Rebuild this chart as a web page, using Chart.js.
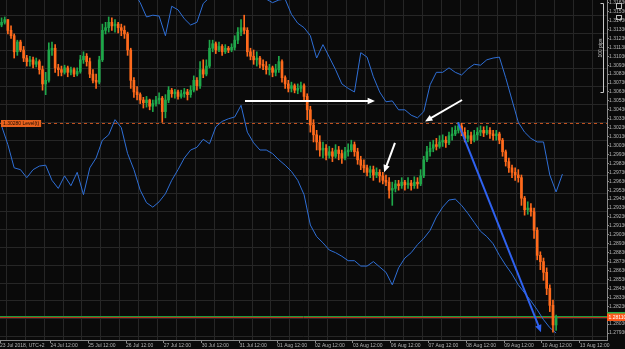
<!DOCTYPE html>
<html>
<head>
<meta charset="utf-8">
<script src="https://cdn.jsdelivr.net/npm/chart.js@4.4.1/dist/chart.umd.min.js"></script>
<style>
  html, body { margin: 0; padding: 0; background: #0a0a0a; }
  #wrap { width: 625px; height: 349px; }
</style>
</head>
<body>
<div id="wrap"><canvas id="chart" width="625" height="349"></canvas></div>
<script>
// GBPUSD, 2h candles from 23 Jul 2018 04:00
// candle i sits at hour 2*i+1, band point k at hour 4*k+1
const firstOpen = 1.3138;
const closePrices = [
  1.3141, 1.3144, 1.3132, 1.3126, 1.3108, 1.3119, 1.3110, 1.3101, 1.3097, 1.3099,
  1.3094, 1.3097, 1.3088, 1.3072, 1.3076, 1.3110, 1.3112, 1.3090, 1.3088, 1.3085,
  1.3090, 1.3085, 1.3088, 1.3083, 1.3086, 1.3099, 1.3103, 1.3097, 1.3083, 1.3076,
  1.3074, 1.3099, 1.3132, 1.3135, 1.3141, 1.3137, 1.3139, 1.3135, 1.3132, 1.3128,
  1.3110, 1.3076, 1.3063, 1.3060, 1.3054, 1.3051, 1.3054, 1.3047, 1.3050, 1.3054,
  1.3056, 1.3041, 1.3054, 1.3065, 1.3061, 1.3063, 1.3058, 1.3061, 1.3063, 1.3060,
  1.3065, 1.3076, 1.3070, 1.3088, 1.3083, 1.3092, 1.3112, 1.3117, 1.3110, 1.3114,
  1.3108, 1.3112, 1.3110, 1.3113, 1.3121, 1.3130, 1.3135, 1.3132, 1.3108, 1.3103,
  1.3099, 1.3101, 1.3094, 1.3092, 1.3088, 1.3090, 1.3085, 1.3088, 1.3097, 1.3079,
  1.3072, 1.3067, 1.3070, 1.3065, 1.3067, 1.3070, 1.3058, 1.3043, 1.3026, 1.3015,
  1.3007, 1.2998, 1.3000, 1.2992, 1.2996, 1.2991, 1.2998, 1.2994, 1.2989, 1.2996,
  1.2998, 1.3004, 1.2996, 1.2987, 1.2981, 1.2978, 1.2973, 1.2976, 1.2970, 1.2973,
  1.2969, 1.2964, 1.2962, 1.2953, 1.2955, 1.2960, 1.2958, 1.2962, 1.2959, 1.2961,
  1.2958, 1.2962, 1.2960, 1.2969, 1.2987, 1.2996, 1.3000, 1.3004, 1.3002, 1.3007,
  1.3009, 1.3006, 1.3014, 1.3016, 1.3020, 1.3025, 1.3018, 1.3011, 1.3014, 1.3009,
  1.3015, 1.3018, 1.3020, 1.3017, 1.3020, 1.3016, 1.3014, 1.3016, 1.3009, 1.2996,
  1.2985, 1.2978, 1.2973, 1.2970, 1.2967, 1.2944, 1.2931, 1.2933, 1.2929, 1.2908,
  1.2880, 1.2873, 1.2861, 1.2843, 1.2824, 1.2802, 1.2811
];
const highPrices = [
  1.3146, 1.3147, 1.3144, 1.3137, 1.3128, 1.3121, 1.3121, 1.3114, 1.3104, 1.3103,
  1.3102, 1.3101, 1.3099, 1.3092, 1.3085, 1.3118, 1.3119, 1.3116, 1.3094, 1.3092,
  1.3093, 1.3092, 1.3091, 1.3090, 1.3090, 1.3104, 1.3108, 1.3106, 1.3101, 1.3088,
  1.3083, 1.3103, 1.3139, 1.3141, 1.3147, 1.3146, 1.3144, 1.3141, 1.3139, 1.3137,
  1.3130, 1.3112, 1.3079, 1.3069, 1.3062, 1.3057, 1.3058, 1.3055, 1.3054, 1.3058,
  1.3062, 1.3058, 1.3060, 1.3069, 1.3067, 1.3066, 1.3065, 1.3065, 1.3067, 1.3066,
  1.3070, 1.3081, 1.3079, 1.3097, 1.3099, 1.3099, 1.3121, 1.3121, 1.3119, 1.3119,
  1.3116, 1.3116, 1.3114, 1.3117, 1.3126, 1.3135, 1.3144, 1.3149, 1.3135, 1.3112,
  1.3110, 1.3108, 1.3103, 1.3099, 1.3097, 1.3094, 1.3092, 1.3094, 1.3103, 1.3099,
  1.3081, 1.3076, 1.3074, 1.3072, 1.3072, 1.3074, 1.3072, 1.3061, 1.3047, 1.3032,
  1.3020, 1.3014, 1.3007, 1.3004, 1.3002, 1.3000, 1.3004, 1.3002, 1.2998, 1.3001,
  1.3005, 1.3009, 1.3007, 1.3000, 1.2991, 1.2987, 1.2981, 1.2980, 1.2980, 1.2978,
  1.2976, 1.2973, 1.2970, 1.2967, 1.2962, 1.2964, 1.2964, 1.2967, 1.2964, 1.2967,
  1.2964, 1.2968, 1.2967, 1.2976, 1.2991, 1.3002, 1.3007, 1.3009, 1.3011, 1.3014,
  1.3015, 1.3013, 1.3018, 1.3023, 1.3025, 1.3029, 1.3028, 1.3023, 1.3020, 1.3018,
  1.3020, 1.3023, 1.3025, 1.3024, 1.3025, 1.3023, 1.3020, 1.3020, 1.3018, 1.3011,
  1.2998, 1.2989, 1.2981, 1.2978, 1.2976, 1.2970, 1.2946, 1.2940, 1.2938, 1.2933,
  1.2911, 1.2884, 1.2877, 1.2866, 1.2847, 1.2830, 1.2813
];
const lowPrices = [
  1.3136, 1.3139, 1.3128, 1.3123, 1.3101, 1.3104, 1.3108, 1.3097, 1.3092, 1.3092,
  1.3090, 1.3091, 1.3083, 1.3065, 1.3060, 1.3074, 1.3104, 1.3085, 1.3081, 1.3081,
  1.3083, 1.3080, 1.3082, 1.3080, 1.3081, 1.3084, 1.3095, 1.3092, 1.3079, 1.3073,
  1.3067, 1.3072, 1.3097, 1.3128, 1.3130, 1.3132, 1.3130, 1.3129, 1.3126, 1.3123,
  1.3104, 1.3067, 1.3057, 1.3054, 1.3050, 1.3045, 1.3046, 1.3043, 1.3041, 1.3047,
  1.3050, 1.3029, 1.3034, 1.3051, 1.3057, 1.3056, 1.3055, 1.3056, 1.3057, 1.3054,
  1.3057, 1.3063, 1.3065, 1.3067, 1.3079, 1.3081, 1.3090, 1.3108, 1.3106, 1.3108,
  1.3104, 1.3106, 1.3107, 1.3108, 1.3110, 1.3117, 1.3126, 1.3128, 1.3103, 1.3099,
  1.3094, 1.3092, 1.3090, 1.3088, 1.3083, 1.3082, 1.3080, 1.3081, 1.3085, 1.3074,
  1.3067, 1.3063, 1.3063, 1.3062, 1.3061, 1.3063, 1.3054, 1.3032, 1.3018, 1.3007,
  1.2998, 1.2991, 1.2989, 1.2987, 1.2989, 1.2985, 1.2989, 1.2987, 1.2983, 1.2987,
  1.2991, 1.2996, 1.2991, 1.2982, 1.2976, 1.2973, 1.2969, 1.2967, 1.2964, 1.2967,
  1.2962, 1.2960, 1.2958, 1.2944, 1.2936, 1.2951, 1.2953, 1.2955, 1.2953, 1.2955,
  1.2953, 1.2955, 1.2955, 1.2958, 1.2967, 1.2985, 1.2991, 1.2996, 1.2998, 1.3000,
  1.3002, 1.3001, 1.3004, 1.3009, 1.3014, 1.3017, 1.3014, 1.3007, 1.3007, 1.3005,
  1.3007, 1.3009, 1.3014, 1.3013, 1.3015, 1.3011, 1.3009, 1.3009, 1.3005, 1.2991,
  1.2980, 1.2973, 1.2967, 1.2964, 1.2962, 1.2936, 1.2925, 1.2926, 1.2924, 1.2899,
  1.2875, 1.2864, 1.2852, 1.2836, 1.2817, 1.2794, 1.2796
];
const upperLine = [
  null, null, null, null, null, null, null, null, null, null,
  null, null, null, null, null, null, null, null, null, null,
  1.3188, 1.3175, 1.3163, 1.3147, 1.3149, 1.3148, 1.3126, 1.3159, 1.3155, 1.3145,
  1.3138, 1.3141, 1.3162, 1.3169, 1.3177, 1.3179, 1.3177, 1.3179, 1.3175, 1.3177,
  1.3173, 1.3169, 1.3167, 1.3163, 1.3166, 1.3167, 1.3150, 1.3140, 1.3135, 1.3126,
  1.3101, 1.3116, 1.3102, 1.3088, 1.3072, 1.3067, 1.3063, 1.3107, 1.3102, 1.3080,
  1.3063, 1.3052, 1.3053, 1.3043, 1.3043, 1.3037, 1.3034, 1.3041, 1.3071, 1.3085,
  1.3085, 1.3090, 1.3085, 1.3082, 1.3089, 1.3094, 1.3093, 1.3099, 1.3101, 1.3102,
  1.3079, 1.3054, 1.3029, 1.3018, 1.3011, 1.3007, 1.3007, 1.2970, 1.2951, 1.2971
];
const lowerLine = [
  1.3025, 1.3004, 1.2978, 1.2976, 1.2967, 1.2976, 1.2980, 1.2981, 1.2964, 1.2955,
  1.2969, 1.2958, 1.2973, 1.2948, 1.2978, 1.2989, 1.3009, 1.3015, 1.3032, 1.3023,
  1.2994, 1.2976, 1.2953, 1.2939, 1.2934, 1.2940, 1.2949, 1.2964, 1.2976, 1.2989,
  1.2998, 1.3001, 1.3010, 1.3005, 1.3024, 1.3030, 1.3033, 1.3035, 1.3048, 1.3018,
  1.3006, 1.2998, 1.2998, 1.2994, 1.2987, 1.2981, 1.2974, 1.2964, 1.2948, 1.2914,
  1.2901, 1.2894, 1.2886, 1.2883, 1.2879, 1.2874, 1.2874, 1.2868, 1.2868, 1.2873,
  1.2867, 1.2861, 1.2847, 1.2866, 1.2877, 1.2883, 1.2892, 1.2899, 1.2908, 1.2923,
  1.2934, 1.2942, 1.2943, 1.2936, 1.2927, 1.2917, 1.2907, 1.2901, 1.2893, 1.2880,
  1.2869, 1.2859, 1.2847, 1.2838, 1.2829, 1.2819, 1.2808, 1.2799, 1.2793
];

const dayLabels = ['23 Jul 2018, UTC+2', '24 Jul 12:00', '25 Jul 12:00', '26 Jul 12:00', '27 Jul 12:00',
  '30 Jul 12:00', '31 Jul 12:00', '01 Aug 12:00', '02 Aug 12:00', '03 Aug 12:00', '06 Aug 12:00',
  '07 Aug 12:00', '08 Aug 12:00', '09 Aug 12:00', '10 Aug 12:00', '13 Aug 12:00'];
const dayLabelHours = [0, 32, 56, 80, 104, 128, 152, 176, 200, 224, 248, 272, 296, 320, 344, 368];
const priceTicks = [1.3163, 1.3153, 1.3143, 1.3133, 1.3123, 1.3113, 1.3103, 1.3093, 1.3083, 1.3073,
  1.3063, 1.3053, 1.3043, 1.3033, 1.3023, 1.3013, 1.3003, 1.2993, 1.2983, 1.2973, 1.2963, 1.2953,
  1.2943, 1.2933, 1.2923, 1.2913, 1.2903, 1.2893, 1.2883, 1.2873, 1.2863, 1.2853, 1.2843, 1.2833,
  1.2823, 1.2813, 1.2803, 1.2793];
const gridPrices = [1.3149, 1.3129, 1.3109, 1.3089, 1.3069, 1.3049, 1.3029, 1.3009, 1.2989, 1.2969,
  1.2949, 1.2929, 1.2909, 1.2889, 1.2869, 1.2849, 1.2829, 1.2809, 1.2789];

const levelPrice = 1.3028;
const levelText = '1.30280 Level(t)';
const bidPrice = 1.2811;
const askPrice = 1.2812;
const pipsFrom = 1.3163, pipsTo = 1.3063;

// drawn arrows: [hour, price] -> [hour, price]
const arrows = [
  { from: [155.5, 1.3053], to: [238, 1.3053], color: '#ffffff' },
  { from: [293.3, 1.3054], to: [269.8, 1.3030], color: '#ffffff' },
  { from: [250.7, 1.3006], to: [243.8, 1.2973], color: '#ffffff' },
  { from: [290.7, 1.3029], to: [343.4, 1.2794], color: '#2f62f0' }
];

const X_MAX = 385.3;
const bull = '#1fa84a';
const bear = '#ff6a1c';

const openPrices = closePrices.map((c, i) => i === 0 ? firstOpen : closePrices[i - 1]);
const candleColor = closePrices.map((c, i) => c >= openPrices[i] ? bull : bear);
const wickData = closePrices.map((c, i) => ({ x: 2 * i + 1, y: [lowPrices[i], highPrices[i]] }));
const bodyData = closePrices.map((c, i) => ({ x: 2 * i + 1, y: [openPrices[i], c] }));
const upperData = upperLine.map((v, k) => ({ x: 4 * k + 1, y: v }));
const lowerData = lowerLine.map((v, k) => ({ x: 4 * k + 1, y: v }));

function drawArrow(ctx, x0, y0, x1, y1, color) {
  const a = Math.atan2(y1 - y0, x1 - x0), head = 8;
  ctx.strokeStyle = color;
  ctx.fillStyle = color;
  ctx.lineWidth = 2;
  ctx.beginPath();
  ctx.moveTo(x0, y0);
  ctx.lineTo(x1 - Math.cos(a) * head * 0.7, y1 - Math.sin(a) * head * 0.7);
  ctx.stroke();
  ctx.beginPath();
  ctx.moveTo(x1, y1);
  ctx.lineTo(x1 - head * Math.cos(a - 0.42), y1 - head * Math.sin(a - 0.42));
  ctx.lineTo(x1 - head * Math.cos(a + 0.42), y1 - head * Math.sin(a + 0.42));
  ctx.closePath();
  ctx.fill();
}

// keep the plot flush with the canvas edges
const noPad = s => { s.paddingLeft = 0; s.paddingRight = 0; s.paddingTop = 0; s.paddingBottom = 0; };

const overlay = {
  id: 'overlay',
  beforeDatasetsDraw(chart) {
    const { ctx, chartArea: a, scales: { y } } = chart;
    ctx.save();
    const ly = Math.round(y.getPixelForValue(levelPrice)) + 0.5;
    ctx.lineWidth = 1;
    ctx.strokeStyle = '#c0501e';
    ctx.setLineDash([3, 3]);
    ctx.beginPath(); ctx.moveTo(a.left, ly); ctx.lineTo(a.right, ly); ctx.stroke();
    ctx.setLineDash([]);
    const ay = Math.round(y.getPixelForValue(askPrice)) + 0.5;
    ctx.strokeStyle = '#1f9a3c';
    ctx.beginPath(); ctx.moveTo(a.left, ay); ctx.lineTo(a.right, ay); ctx.stroke();
    const by = Math.round(y.getPixelForValue(bidPrice)) + 0.5;
    ctx.strokeStyle = '#b8321a';
    ctx.beginPath(); ctx.moveTo(a.left, by); ctx.lineTo(a.right, by); ctx.stroke();
    ctx.restore();
  },
  afterDatasetsDraw(chart) {
    const { ctx, scales: { x, y } } = chart;
    ctx.save();
    arrows.forEach(ar => {
      drawArrow(ctx, x.getPixelForValue(ar.from[0]), y.getPixelForValue(ar.from[1]),
        x.getPixelForValue(ar.to[0]), y.getPixelForValue(ar.to[1]), ar.color);
    });
    ctx.restore();
  },
  afterDraw(chart) {
    const { ctx, chartArea: a, scales: { x, y } } = chart;
    ctx.save();
    ctx.font = '5px "Liberation Sans"';
    ctx.textBaseline = 'middle';
    // level tag on the left
    const ly = Math.round(y.getPixelForValue(levelPrice)) + 0.5;
    const tw = ctx.measureText(levelText).width;
    ctx.fillStyle = '#e8621e';
    ctx.fillRect(1, ly - 3.5, tw + 4, 7);
    ctx.fillStyle = '#1a0a00';
    ctx.textAlign = 'left';
    ctx.fillText(levelText, 3, ly + 0.3);
    // current price tag on the axis
    const by = y.getPixelForValue(bidPrice);
    ctx.fillStyle = '#ff5a1a';
    ctx.fillRect(a.right, by - 4, 625 - a.right, 8);
    ctx.fillStyle = '#25b04a';
    ctx.fillRect(a.right, by - 5, 625 - a.right, 1.5);
    ctx.fillStyle = '#ffffff';
    ctx.fillText(bidPrice.toFixed(5), a.right + 1.5, by + 0.3);
    // 100 pips bracket
    const bx = Math.round(x.getPixelForValue(382.6)) + 0.5;
    const t0 = Math.round(y.getPixelForValue(pipsFrom)) + 0.5;
    const t1 = Math.round(y.getPixelForValue(pipsTo)) + 0.5;
    ctx.strokeStyle = '#c8c8c8';
    ctx.lineWidth = 1;
    ctx.beginPath();
    ctx.moveTo(bx - 3, t0); ctx.lineTo(bx, t0); ctx.lineTo(bx, t1); ctx.lineTo(bx - 3, t1);
    ctx.stroke();
    ctx.save();
    ctx.translate(bx - 3, (t0 + t1) / 2);
    ctx.rotate(-Math.PI / 2);
    ctx.fillStyle = '#c8c8c8';
    ctx.textAlign = 'center';
    ctx.fillText('100 pips', 0, 0);
    ctx.restore();
    // toolbar icons, top right
    ctx.strokeStyle = '#bdbdbd';
    ctx.strokeRect(616.5, 3.5, 5, 5);
    ctx.strokeRect(616.5, 15.5, 5, 4);
    ctx.restore();
  }
};

Chart.defaults.font.family = '"Liberation Sans", sans-serif';

new Chart(document.getElementById('chart'), {
  type: 'bar',
  data: {
    datasets: [
      { label: 'bodies', data: bodyData, backgroundColor: candleColor, borderWidth: 0, barThickness: 2, minBarLength: 1, grouped: false },
      { label: 'wicks', data: wickData, backgroundColor: candleColor, borderWidth: 0, barThickness: 1, grouped: false },
      { type: 'line', label: 'upper', data: upperData, borderColor: '#2f6fd6', borderWidth: 1, pointRadius: 0, tension: 0 },
      { type: 'line', label: 'lower', data: lowerData, borderColor: '#2f6fd6', borderWidth: 1, pointRadius: 0, tension: 0 }
    ]
  },
  options: {
    responsive: false,
    devicePixelRatio: 1,
    animation: false,
    events: [],
    layout: { padding: 0, autoPadding: false },
    plugins: { legend: { display: false }, tooltip: { enabled: false } },
    scales: {
      x: {
        type: 'linear', position: 'bottom', min: 0, max: X_MAX, offset: false,
        afterBuildTicks: s => { s.ticks = dayLabelHours.map(v => ({ value: v })); },
        afterFit: s => { s.height = 9; noPad(s); },
        grid: { drawOnChartArea: false, color: '#8a8a8a', tickLength: 3, offset: false },
        border: { color: '#8a8a8a' },
        ticks: {
          color: '#b4b4b4', font: { size: 5 }, padding: 0, align: 'start',
          maxRotation: 0, autoSkip: false,
          callback: (v, i) => dayLabels[i]
        }
      },
      xg: {
        type: 'linear', position: 'bottom', min: 0, max: X_MAX, offset: false,
        afterBuildTicks: s => {
          const t = [];
          for (let h = 4; h < X_MAX; h += 12) t.push({ value: h });
          s.ticks = t;
        },
        afterFit: s => { s.height = 0; noPad(s); },
        grid: { color: '#262626', drawTicks: false, offset: false },
        border: { display: false },
        ticks: { display: false }
      },
      y: {
        type: 'linear', position: 'right', min: 1.27852, max: 1.3166,
        afterBuildTicks: s => { s.ticks = priceTicks.map(v => ({ value: v })); },
        afterFit: s => { s.width = 18; noPad(s); },
        grid: { drawOnChartArea: false, color: '#8a8a8a', tickLength: 2 },
        border: { color: '#8a8a8a' },
        ticks: { color: '#b4b4b4', font: { size: 5 }, padding: 0, callback: v => v.toFixed(5) }
      },
      yg: {
        type: 'linear', position: 'left', min: 1.27852, max: 1.3166,
        afterBuildTicks: s => { s.ticks = gridPrices.map(v => ({ value: v })); },
        afterFit: s => { s.width = 0; noPad(s); },
        grid: { color: '#262626', drawTicks: false },
        border: { display: false },
        ticks: { display: false }
      }
    }
  },
  plugins: [overlay]
});
</script>
</body>
</html>
